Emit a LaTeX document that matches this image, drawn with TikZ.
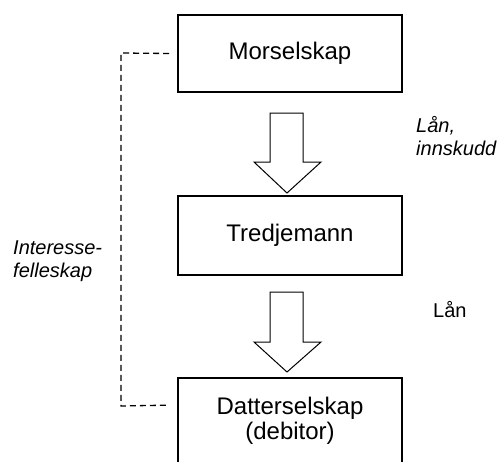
\documentclass[tikz,border=0pt]{standalone}
\usepackage{fontspec}
\setmainfont{Liberation Sans}
\begin{document}
\begin{tikzpicture}[x=1pt,y=-1pt,
  box/.style={draw,line width=1.8pt,minimum width=224pt,inner sep=0pt,align=center,
    font=\fontsize{24}{24.5}\selectfont},
  side/.style={inner sep=0pt,align=left,font=\fontsize{20}{23}\selectfont},
  bigarrow/.style={draw,line width=1pt,fill=white,line join=miter},
  link/.style={draw,line width=1.3pt,dash pattern=on 6pt off 4pt}]
\useasboundingbox (0,0) rectangle (502,461);
\node[box,minimum height=77pt] (m) at (290,53.5) {Morselskap};
\node[box,minimum height=79pt] (t) at (290,235.5) {Tredjemann};
\node[box,minimum height=86pt] (d) at (290,421) {Datterselskap\\(debitor)};
% block arrows
\draw[bigarrow] (270,113) -- (303,113) -- (303,162) -- (321,162) -- (287,193)
  -- (254,162) -- (270,162) -- cycle;
\draw[bigarrow] (270,292) -- (303,292) -- (303,342) -- (321,342) -- (287,372)
  -- (254,342) -- (270,342) -- cycle;
% labels
\node[side,anchor=base west] (l1) at (416,155) {\itshape Lån,\\\itshape innskudd};
\node[side,anchor=base west] (l2) at (433,317) {Lån};
\node[side,anchor=base west] (l3) at (13,277) {\itshape Interesse-\\\itshape felleskap};
% dashed link
\coordinate (c1) at ([xshift=-8pt]m.west);
\coordinate (c2) at ([xshift=-8pt,yshift=-28pt]d.north west);
\draw[link] (c1) -- (121,53) -- (121,406) -- (c2);
\end{tikzpicture}
\end{document}
